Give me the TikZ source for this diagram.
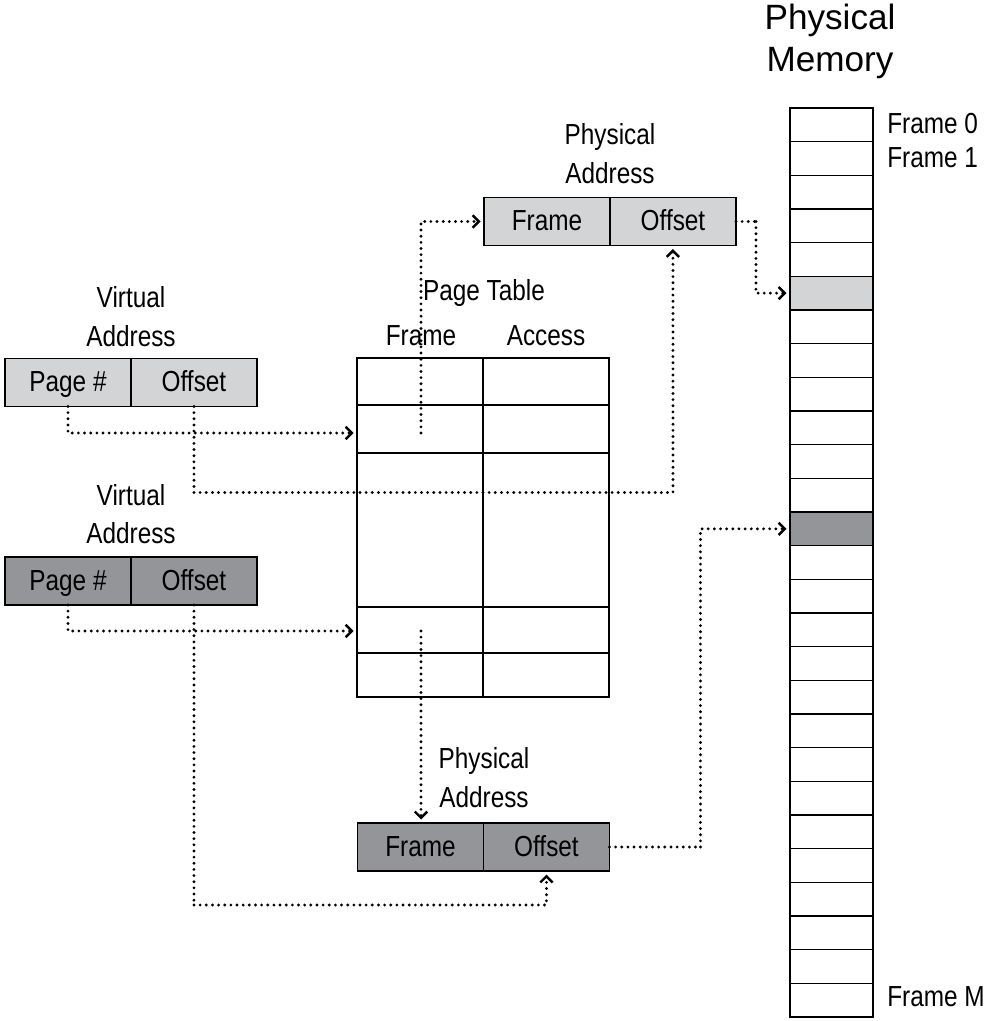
\documentclass[tikz,border=0pt]{standalone}
\usepackage{fontspec}
\setmainfont{Liberation Sans}[FakeStretch=0.84]
\newfontfamily\titlefont{Liberation Sans}
\usetikzlibrary{arrows.meta, positioning, calc}
\definecolor{cellpale}{RGB}{211,212,213}
\definecolor{celldark}{RGB}{147,149,152}

\begin{document}
\begin{tikzpicture}[x=0.02cm, y=-0.02cm,
    font=\fontsize{16.5}{22}\selectfont,
    cell/.style={draw, line width=1.1pt, minimum width=2.52cm, minimum height=0.96cm, inner sep=0pt,
        outer sep=0pt, text height=2.2ex, text depth=0.2ex},
    memcell/.style={draw, line width=0.8pt, minimum width=1.66cm, minimum height=0.6734cm, inner sep=0pt, outer sep=0pt},
    label/.style={align=center, inner sep=0pt},
    link/.style={line width=1.8pt, dash pattern=on 0pt off 3.5pt, line cap=round,
        -{Straight Barb[length=3.5pt, width=7pt, line width=1.4pt]}, shorten >=2pt},
    plain/.style={line width=1.8pt, dash pattern=on 0pt off 3.5pt, line cap=round}]
                \useasboundingbox (0,0) rectangle (987,1021);
                % physical memory
                \node[label, font=\titlefont\fontsize{20}{24}\selectfont] (memlab) at (830,41) {Physical\\Memory};
                \foreach \i in {0,...,26}{
                    \ifnum\i=5 \def\memfill{cellpale}\else\ifnum\i=12 \def\memfill{celldark}\else\def\memfill{white}\fi\fi
                    \node[memcell, fill=\memfill] (m\i) at (831.5,{124.8+33.67*\i}) {};
                }
                \draw[line width=1.6pt] (m0.north west) rectangle (m26.south east);
                \node[label, anchor=west] (f0) at (887,124) {Frame 0};
                \node[label, anchor=west] (f1) at (887,158) {Frame 1};
                \node[label, anchor=west] (fm) at (887,997) {Frame M};
                % page table
                \node[draw, line width=1.6pt, minimum width=5.04cm, minimum height=6.78cm, inner sep=0pt, outer sep=0pt] (ptab) at (483,527.5) {};
                \draw[line width=1.1pt] (ptab.north) -- (ptab.south);
                \foreach \y in {405,453,607,653}
                    \draw[line width=1.1pt] (ptab.west |- 0,\y) -- (ptab.east |- 0,\y);
                \node[label] (ptlab) at (484,293) {Page Table};
                \node[label] (ptframe) at (421,336) {Frame};
                \node[label] (ptaccess) at (546,336) {Access};
                \coordinate (pt2) at (421,433);
                \coordinate (pt5) at (421,631);
                % virtual addresses
                \node[label] (va1lab) at (131,316.5) {Virtual\\Address};
                \node[cell, fill=cellpale] (va1p) at (68,382.5) {Page \#};
                \node[cell, fill=cellpale, right=0pt of va1p] (va1o) {Offset};
                \node[label] (va2lab) at (131,514) {Virtual\\Address};
                \node[cell, fill=celldark] (va2p) at (68,581) {Page \#};
                \node[cell, fill=celldark, right=0pt of va2p] (va2o) {Offset};
                % physical addresses
                \node[label] (pa1lab) at (610,153.5) {Physical\\Address};
                \node[cell, fill=cellpale] (pa1f) at (547,221.5) {Frame};
                \node[cell, fill=cellpale, right=0pt of pa1f] (pa1o) {Offset};
                \node[label] (pa2lab) at (484,777.5) {Physical\\Address};
                \node[cell, fill=celldark] (pa2f) at (420.5,847) {Frame};
                \node[cell, fill=celldark, right=0pt of pa2f] (pa2o) {Offset};
                % connectors
                \draw[link] (va1p.south) |- (ptab.west |- pt2);
                \draw[plain] (va1o.south) -- ++(0,86) coordinate (va1bend);
                \draw[link] (va1bend) -| (pa1o.south);
                \draw[link] (pt2) |- (pa1f.west);
                \draw[plain] (pa1o.east) -- ++(20,0) coordinate (pa1bend);
                \draw[link] (pa1bend) |- (m5.west);
                \draw[link] (va2p.south) |- (ptab.west |- pt5);
                \draw[plain] (va2o.south) -- ++(0,300) coordinate (va2bend);
                \draw[link] (va2bend) -| (pa2o.south);
                \draw[link] (pt5) -- (pa2f.north -| pt5);
                \draw[plain] (pa2o.east) -- ++(91,0) coordinate (pa2bend);
                \draw[link] (pa2bend) |- (m12.west);
            \end{tikzpicture}
\end{document}
